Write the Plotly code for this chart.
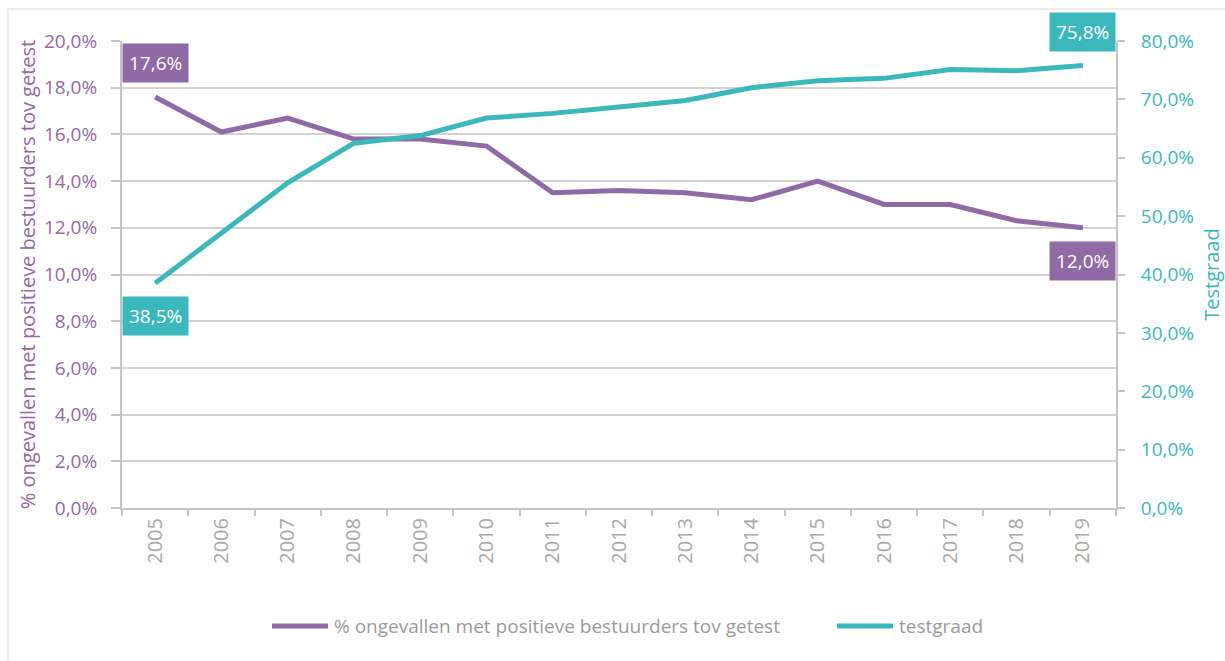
import plotly.graph_objects as go

# Yearly figures
years = [str(y) for y in range(2005, 2020)]
positief_pct = [17.6, 16.1, 16.7, 15.8, 15.8, 15.5, 13.5, 13.6, 13.5, 13.2, 14.0, 13.0, 13.0, 12.3, 12.0]
testgraad_pct = [38.5, 47.2, 55.7, 62.5, 63.8, 66.8, 67.6, 68.7, 69.8, 72.0, 73.2, 73.6, 75.1, 74.9, 75.8]

left_ticks = [0, 2, 4, 6, 8, 10, 12, 14, 16, 18, 20]
right_ticks = [0, 10, 20, 30, 40, 50, 60, 70, 80]

name_positief = "% ongevallen met positieve bestuurders tov getest"
name_testgraad = "testgraad"

PURPLE = "#8F6AA5"
TEAL = "#3BB8BB"
GRID = "#D2D2D2"
AXIS = "#C4C4C4"
TICKTXT = "#A8A8A8"
LEGTXT = "#9A9A9A"
FONT = "'Open Sans', sans-serif"

W, H = 1225, 661
L, R, T, B = 122, 109, 41, 153


def fmt(v):
    return f"{v:.1f}".replace(".", ",") + "%"


def px_x(p):
    return (p - L) / (W - L - R)


def px_y(p):
    return (H - B - p) / (H - T - B)


fig = go.Figure()
fig.add_trace(go.Scatter(
    x=years, y=positief_pct, name=name_positief, mode="lines",
    line=dict(color=PURPLE, width=5), yaxis="y", showlegend=False,
))
fig.add_trace(go.Scatter(
    x=years, y=testgraad_pct, name=name_testgraad, mode="lines",
    line=dict(color=TEAL, width=5), yaxis="y2", showlegend=False,
))

# value boxes at the first and last year (x given as category index)
first, last = 0, len(years) - 1
labels = [
    (first, positief_pct[first], "y", PURPLE, 34),
    (last, positief_pct[last], "y", PURPLE, -33),
    (first, testgraad_pct[first], "y2", TEAL, -33),
    (last, testgraad_pct[last], "y2", TEAL, 34),
]
for x, v, yref, col, shift in labels:
    fig.add_annotation(
        x=x, y=v, xref="x", yref=yref, text=fmt(v), showarrow=False,
        yshift=shift, bgcolor=col, borderpad=6,
        font=dict(family=FONT, size=19, color="white"),
    )

# legend below the plot: a 60px line swatch followed by the series name
legend_items = [(name_positief, PURPLE, 270), (name_testgraad, TEAL, 835)]
leg_y = px_y(626)
for text, col, x0 in legend_items:
    fig.add_shape(type="line", xref="paper", yref="paper",
                  x0=px_x(x0 + 2), x1=px_x(x0 + 58), y0=leg_y, y1=leg_y,
                  line=dict(color=col, width=5))
    fig.add_annotation(x=px_x(x0 + 62), y=leg_y, xref="paper", yref="paper",
                       text=text, showarrow=False, xanchor="left", yanchor="middle",
                       font=dict(family=FONT, size=19, color=LEGTXT))

# light frame around the chart area
fig.add_shape(type="line", xref="paper", yref="paper",
              x0=px_x(8), x1=px_x(8), y0=px_y(9), y1=px_y(H + 5),
              line=dict(color="#E6E6E6", width=1.5))
fig.add_shape(type="line", xref="paper", yref="paper",
              x0=px_x(8), x1=px_x(W + 5), y0=px_y(9), y1=px_y(9),
              line=dict(color="#E6E6E6", width=1.5))

fig.update_layout(
    width=W, height=H,
    margin=dict(l=L, r=R, t=T, b=B, autoexpand=False),
    paper_bgcolor="white", plot_bgcolor="white",
    showlegend=False,
    xaxis=dict(
        type="category", showgrid=False, showline=True, linecolor=AXIS, linewidth=2,
        ticks="outside", tickson="boundaries", ticklen=6, tickcolor=AXIS, tickwidth=2,
        tickangle=-90, tickfont=dict(family=FONT, size=20, color=TICKTXT),
        range=[-0.5, len(years) - 0.5],
    ),
    yaxis=dict(
        range=[0, 20], tickmode="array", tickvals=left_ticks,
        ticktext=[fmt(v) for v in left_ticks],
        showgrid=True, gridcolor=GRID, gridwidth=2,
        showline=True, linecolor=AXIS, linewidth=2,
        ticks="outside", ticklen=9, tickcolor=AXIS, tickwidth=2,
        tickfont=dict(family=FONT, size=19, color=PURPLE), ticklabelstandoff=10,
        zeroline=False,
        title=dict(text=name_positief, font=dict(family=FONT, size=20, color=PURPLE), standoff=3),
    ),
    yaxis2=dict(
        range=[0, 80], tickmode="array", tickvals=right_ticks,
        ticktext=[fmt(v) for v in right_ticks],
        overlaying="y", side="right", showgrid=False,
        showline=True, linecolor=AXIS, linewidth=2,
        ticks="outside", ticklen=7, tickcolor=AXIS, tickwidth=2,
        tickfont=dict(family=FONT, size=19, color=TEAL), ticklabelstandoff=12,
        zeroline=False,
        title=dict(text="Testgraad", font=dict(family=FONT, size=20, color=TEAL), standoff=12),
    ),
)

fig.write_html("out.html")
